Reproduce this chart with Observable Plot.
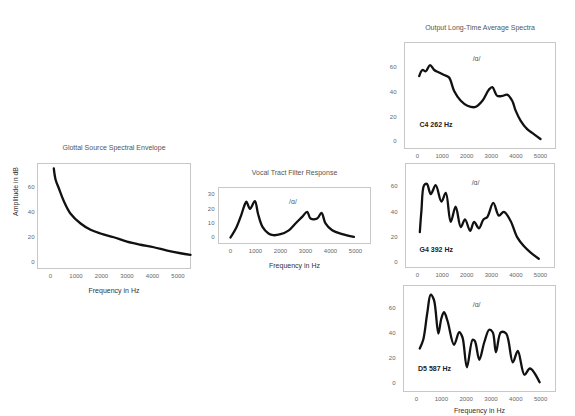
<!DOCTYPE html>
<html>
<head>
<meta charset="utf-8">
<script src="https://cdn.jsdelivr.net/npm/d3@7"></script>
<script src="https://cdn.jsdelivr.net/npm/@observablehq/plot@0.6"></script>
<style>
  html, body { margin: 0; padding: 0; background: #fff; }
  #chart { position: relative; width: 575px; height: 416px; overflow: hidden; background: #fff; }
</style>
</head>
<body>
<div id="chart"></div>
<script>
// ---- data ----
const freqTicks = [0, 1000, 2000, 3000, 4000, 5000];
const dbTicks = [0, 20, 40, 60];
const tractTicks = [0, 10, 20, 30];

const glottalFreq = [130, 200, 330, 520, 780, 1180, 1570, 1960, 2480, 3000, 3530, 4050, 4580, 5100, 5490];
const glottalDb   = [75, 66, 59, 49, 39, 31, 26, 23, 20, 16.5, 14, 12, 9.3, 7.2, 5.9];

const tractFreq = [0, 244, 427, 549, 634, 780, 975, 1100, 1280, 1520, 1710, 2000, 2333, 2600, 2867, 3067, 3200, 3467, 3640, 3800, 4067, 4467, 4933];
const tractDb   = [0, 7.4, 15.5, 22, 25, 20, 25.4, 16.6, 7.4, 2.8, 1.6, 2.3, 5, 9.8, 14.4, 17.9, 13.3, 13.3, 17.2, 9.8, 5, 2.3, 0.4];

const c4Freq = [70, 200, 340, 510, 680, 880, 1080, 1280, 1490, 1760, 2030, 2360, 2640, 2900, 3040, 3240, 3450, 3650, 3850, 3990, 4190, 4460, 4730, 5000];
const c4Db   = [53, 58, 57, 62, 58, 56, 54, 52, 41, 33, 29, 28, 33, 42, 44, 37, 37, 38, 33, 25, 17, 10, 6, 2];

const g4Freq = [95, 160, 270, 380, 540, 740, 970, 1150, 1350, 1550, 1760, 1930, 2140, 2300, 2500, 2680, 2840, 3080, 3310, 3510, 3780, 4050, 4320, 4590, 4930];
const g4Db   = [24, 41, 61, 62, 54, 61, 48, 55, 32, 44, 28, 34, 25, 32, 27, 34, 36, 47, 37, 40, 33, 20, 13, 8, 3];

const d5Freq = [130, 270, 430, 570, 700, 880, 1000, 1110, 1250, 1510, 1720, 1850, 2030, 2260, 2350, 2530, 2730, 2930, 3070, 3200, 3400, 3610, 3880, 4080, 4350, 4570, 4960];
const d5Db   = [28, 35, 56, 71, 67, 40, 52, 57, 50, 31, 41, 37, 13, 35, 34, 19, 33, 43, 41, 25, 41, 40, 17, 26, 7, 12, 1];

const titles = ["Glottal Source Spectral Envelope", "Vocal Tract Filter Response", "Output Long-Time Average Spectra"];
const xLabel = "Frequency in Hz";
const yLabel = "Amplitude in dB";
const vowel = "/ɑ/";
const noteLabels = ["C4 262 Hz", "G4 392 Hz", "D5 587 Hz"];

// ---- drawing ----
const W = 575, H = 416;
const FONT = "Liberation Sans, Arial, sans-serif";
const chart = document.getElementById("chart");
const plain = d => String(d);

function panel({frame, xDomain, yDomain, yTicks, freq, db, yPad, extra}) {
  const [l, r, t, b] = frame;
  const rows = freq.map((f, i) => ({f, v: db[i]}));
  const svg = Plot.plot({
    width: W, height: H,
    marginLeft: l, marginRight: W - r, marginTop: t, marginBottom: H - b,
    style: {position: "absolute", left: "0px", top: "0px", fontFamily: FONT, fontSize: "6px", color: "#666", background: "transparent", overflow: "visible"},
    x: {domain: xDomain},
    y: {domain: yDomain},
    marks: [
      Plot.frame({stroke: "#c8c8c8"}),
      Plot.axisX(freqTicks, {tickSize: 0, tickPadding: 5, label: null, tickFormat: plain, fontSize: 6, fill: "#666"}),
      Plot.axisY(yTicks, {tickSize: 0, tickPadding: yPad, label: null, tickFormat: plain, fontSize: 6, fill: "#666"}),
      Plot.line(rows, {x: "f", y: "v", stroke: "#111", strokeWidth: 2.3, curve: "catmull-rom"}),
      ...(extra || [])
    ]
  });
  chart.appendChild(svg);
}

const txt = (s, o) => Plot.text([s], {text: d => d, fontFamily: FONT, ...o});

// Panel 1: glottal source
panel({
  frame: [37, 190, 163, 268],
  xDomain: [-510, 5490], yDomain: [-5, 79], yTicks: dbTicks, yPad: 3,
  freq: glottalFreq, db: glottalDb,
  extra: [
    txt(titles[0], {frameAnchor: "top", dy: -18, fontSize: 7, fill: "#555"}),
    txt(xLabel, {frameAnchor: "bottom", dy: 24, fontSize: 7, fill: "#333"}),
    txt(yLabel, {frameAnchor: "left", dx: -22, rotate: -90, fontSize: 7, fill: "#333"})
  ]
});

// Panel 2: vocal tract
panel({
  frame: [218, 370, 187, 243],
  xDomain: [-480, 5600], yDomain: [-4.2, 34.9], yTicks: tractTicks, yPad: 4,
  freq: tractFreq, db: tractDb,
  extra: [
    txt(titles[1], {frameAnchor: "top", dy: -17, fontSize: 7, fill: "#555"}),
    txt(xLabel, {frameAnchor: "bottom", dy: 24, fontSize: 7, fill: "#333"}),
    Plot.text([vowel], {x: 2500, y: 25, text: d => d, fontFamily: FONT, fontSize: 7, fill: "#555"})
  ]
});

// Panel 3: C4
panel({
  frame: [404, 555, 42, 148],
  xDomain: [-528, 5610], yDomain: [-5.7, 80.3], yTicks: dbTicks, yPad: 8,
  freq: c4Freq, db: c4Db,
  extra: [
    txt(titles[2], {frameAnchor: "top", dy: -17, fontSize: 7, fill: "#555"}),
    Plot.text([vowel], {x: 2400, y: 67, text: d => d, fontFamily: FONT, fontSize: 7, fill: "#555"}),
    Plot.text([noteLabels[0]], {x: 80, y: 13.8, text: d => d, textAnchor: "start", fontFamily: FONT, fontSize: 7, fontWeight: "bold", fill: "#222"})
  ]
});

// Panel 4: G4
panel({
  frame: [405, 554, 163, 267],
  xDomain: [-488, 5569], yDomain: [-3.9, 78.1], yTicks: dbTicks, yPad: 8,
  freq: g4Freq, db: g4Db,
  extra: [
    Plot.text([vowel], {x: 2360, y: 63, text: d => d, fontFamily: FONT, fontSize: 7, fill: "#555"}),
    Plot.text([noteLabels[1]], {x: 80, y: 10.3, text: d => d, textAnchor: "start", fontFamily: FONT, fontSize: 7, fontWeight: "bold", fill: "#222"})
  ]
});

// Panel 5: D5
panel({
  frame: [403, 555, 285, 391],
  xDomain: [-525, 5600], yDomain: [-6.4, 78.4], yTicks: dbTicks, yPad: 8,
  freq: d5Freq, db: d5Db,
  extra: [
    Plot.text([vowel], {x: 2420, y: 63, text: d => d, fontFamily: FONT, fontSize: 7, fill: "#555"}),
    Plot.text([noteLabels[2]], {x: 60, y: 12, text: d => d, textAnchor: "start", fontFamily: FONT, fontSize: 7, fontWeight: "bold", fill: "#222"}),
    txt(xLabel, {frameAnchor: "bottom", dy: 21, fontSize: 7, fill: "#333"})
  ]
});
</script>
</body>
</html>
